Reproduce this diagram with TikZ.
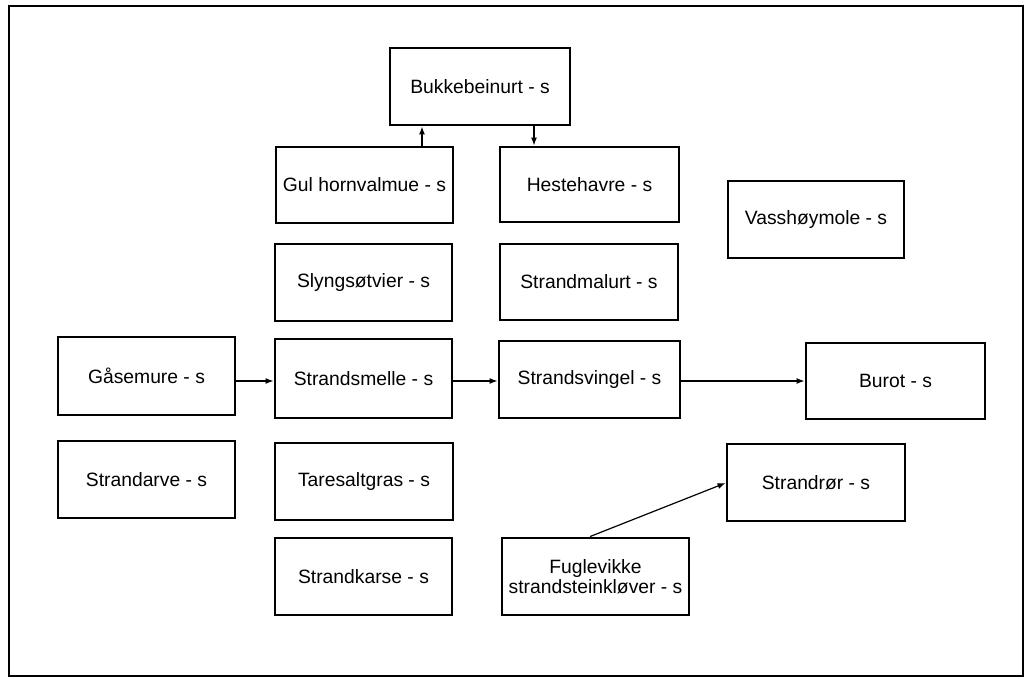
\documentclass[tikz,border=0pt]{standalone}
\usepackage{fontspec}
\setmainfont{Liberation Sans}
\usetikzlibrary{arrows.meta}
\begin{document}
\begin{tikzpicture}[x=1pt,y=-1pt,
  box/.style={draw=black,line width=2.9pt,inner sep=0pt,align=center,
    font=\fontsize{19.3}{20.5}\selectfont},
  arr/.style={draw=black,line width=1.2pt,-{Latex[length=8pt,width=6pt]}},
  frame/.style={draw=black,line width=2pt}]
\useasboundingbox (0,0) rectangle (1033,678);
\draw[frame] (9,6) rectangle (1023,676);
\node[box,minimum width=180pt,minimum height=77pt] (buk) at (480,86.5) {Bukkebeinurt - s};
\node[box,minimum width=177pt,minimum height=76pt] (gul) at (364.5,185) {Gul hornvalmue - s};
\node[box,minimum width=179pt,minimum height=75pt] (hest) at (589.5,184.5) {Hestehavre - s};
\node[box,minimum width=177pt,minimum height=77pt] (slyng) at (363.5,282.5) {Slyngsøtvier - s};
\node[box,minimum width=178pt,minimum height=76pt] (malurt) at (589,282) {Strandmalurt - s};
\node[box,minimum width=176pt,minimum height=77pt] (vass) at (816,219.5) {Vasshøymole - s};
\node[box,minimum width=177pt,minimum height=78pt] (gase) at (146.5,376) {Gåsemure - s};
\node[box,minimum width=177pt,minimum height=79pt] (smelle) at (363.5,378.5) {Strandsmelle - s};
\node[box,minimum width=181pt,minimum height=77pt] (svingel) at (589.5,379.5) {Strandsvingel - s};
\node[box,minimum width=179pt,minimum height=76pt] (burot) at (895.5,381) {Burot - s};
\node[box,minimum width=177pt,minimum height=77pt] (arve) at (146.5,479.5) {Strandarve - s};
\node[box,minimum width=178pt,minimum height=77pt] (tare) at (364,481.5) {Taresaltgras - s};
\node[box,minimum width=177pt,minimum height=77pt] (karse) at (363.5,576.5) {Strandkarse - s};
\node[box,minimum width=178pt,minimum height=77pt] (ror) at (816,482.5) {Strandrør - s};
\node[box,minimum width=187pt,minimum height=77pt] (fugl) at (595.5,576.5) {Fuglevikke\\strandsteinkløver - s};
\coordinate (xa) at (422,0);
\coordinate (xb) at (534,0);
\coordinate (ya) at (0,381);
\coordinate (xf) at (590,0);
\coordinate (yr) at (0,483);
\draw[arr] (gul.north -| xa) -- (buk.south -| xa);
\draw[arr] (buk.south -| xb) -- (hest.north -| xb);
\draw[arr] (gase.east |- ya) -- (smelle.west |- ya);
\draw[arr] (smelle.east |- ya) -- (svingel.west |- ya);
\draw[arr] (svingel.east |- ya) -- (burot.west |- ya);
\draw[arr] (fugl.north -| xf) -- (ror.west |- yr);
\end{tikzpicture}
\end{document}
